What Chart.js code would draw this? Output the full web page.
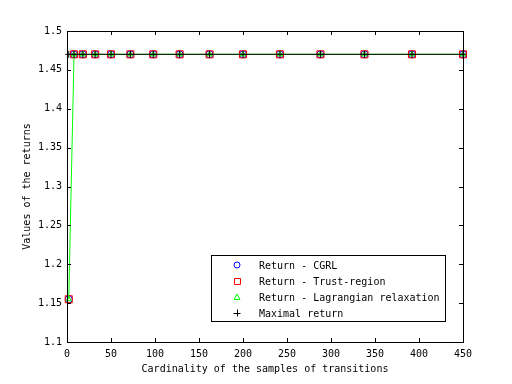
<!DOCTYPE html>
<html>
<head>
<meta charset="utf-8">
<script src="https://cdn.jsdelivr.net/npm/chart.js@4/dist/chart.umd.min.js"></script>
<style>
  html, body { margin: 0; padding: 0; background: #fff; }
  #wrap { width: 512px; height: 384px; position: relative; }
</style>
</head>
<body>
<div id="wrap"><canvas id="c" width="512" height="384"></canvas></div>
<script>
// sample sizes and returns
const sampleSizes = [2, 8, 18, 32, 50, 72, 98, 128, 162, 200, 242, 288, 338, 392, 450];
const returnCGRL  = [1.155, 1.47, 1.47, 1.47, 1.47, 1.47, 1.47, 1.47, 1.47, 1.47, 1.47, 1.47, 1.47, 1.47, 1.47];
const returnTrust = [1.155, 1.47, 1.47, 1.47, 1.47, 1.47, 1.47, 1.47, 1.47, 1.47, 1.47, 1.47, 1.47, 1.47, 1.47];
const returnLagr  = [1.155, 1.47, 1.47, 1.47, 1.47, 1.47, 1.47, 1.47, 1.47, 1.47, 1.47, 1.47, 1.47, 1.47, 1.47];
const maxReturn   = [1.47, 1.47, 1.47, 1.47, 1.47, 1.47, 1.47, 1.47, 1.47, 1.47, 1.47, 1.47, 1.47, 1.47, 1.47];

const xTicks = [0, 50, 100, 150, 200, 250, 300, 350, 400, 450];
const yTicks = [1.1, 1.15, 1.2, 1.25, 1.3, 1.35, 1.4, 1.45, 1.5];

const seriesNames = ['Return - CGRL', 'Return - Trust-region', 'Return - Lagrangian relaxation', 'Maximal return'];

Chart.defaults.font.family = "'DejaVu Sans Mono', monospace";
Chart.defaults.font.size = 10;
Chart.defaults.color = '#000';

const pts = ys => sampleSizes.map((x, i) => ({ x, y: ys[i] }));

// order: lower number is painted later, so the last matlab series ends up on top.
// blue/red lines sit exactly under the green one in the original, so only
// their markers are drawn (avoids antialiased colour mixing on the rise).
function series(label, ys, color, style, radius, order, line) {
  return {
    label,
    data: pts(ys),
    showLine: line,
    borderColor: color,
    borderWidth: 1,
    pointStyle: style,
    pointRadius: radius,
    pointBorderColor: color,
    pointBackgroundColor: 'rgba(0,0,0,0)',
    pointBorderWidth: 1,
    clip: false,
    order,
  };
}

// box + inward ticks on all four sides (matlab look)
const axesBox = {
  id: 'axesBox',
  afterDraw(chart) {
    const { ctx, chartArea: a, scales } = chart;
    const tl = 4;
    ctx.save();
    ctx.strokeStyle = '#000';
    ctx.lineWidth = 1;
    ctx.strokeRect(Math.round(a.left) + 0.5, Math.round(a.top) + 0.5,
                   Math.round(a.right - a.left), Math.round(a.bottom - a.top));
    ctx.beginPath();
    xTicks.forEach(v => {
      const px = Math.round(scales.x.getPixelForValue(v)) + 0.5;
      ctx.moveTo(px, a.bottom); ctx.lineTo(px, a.bottom - tl);
      ctx.moveTo(px, a.top); ctx.lineTo(px, a.top + tl);
    });
    yTicks.forEach(v => {
      const py = Math.round(scales.y.getPixelForValue(v)) + 0.5;
      ctx.moveTo(a.left, py); ctx.lineTo(a.left + tl, py);
      ctx.moveTo(a.right, py); ctx.lineTo(a.right - tl, py);
    });
    ctx.stroke();
    ctx.restore();
  }
};

// legend box in the lower right, like the original
const boxLegend = {
  id: 'boxLegend',
  afterDraw(chart) {
    const { ctx } = chart;
    const L = 211, T = 255, W = 234, H = 66;
    ctx.save();
    ctx.fillStyle = '#fff';
    ctx.fillRect(L, T, W, H);
    ctx.strokeStyle = '#000';
    ctx.lineWidth = 1;
    ctx.strokeRect(L + 0.5, T + 0.5, W, H);
    ctx.font = "10px 'DejaVu Sans Mono', monospace";
    ctx.textBaseline = 'middle';
    ctx.textAlign = 'left';
    chart.data.datasets.forEach((ds, i) => {
      const y = 265 + i * 16;
      const mx = 237;
      ctx.strokeStyle = ds.borderColor;
      ctx.beginPath();
      if (ds.pointStyle === 'circle') {
        ctx.arc(mx, y, 3, 0, Math.PI * 2);
      } else if (ds.pointStyle === 'rect') {
        ctx.rect(mx - 3 + 0.5, y - 3 + 0.5, 6, 6);
      } else if (ds.pointStyle === 'triangle') {
        ctx.moveTo(mx, y - 3); ctx.lineTo(mx + 3, y + 2.5); ctx.lineTo(mx - 3, y + 2.5); ctx.closePath();
      } else {
        ctx.moveTo(mx - 3.5, y + 0.5); ctx.lineTo(mx + 3.5, y + 0.5);
        ctx.moveTo(mx + 0.5, y - 3.5); ctx.lineTo(mx + 0.5, y + 3.5);
      }
      ctx.stroke();
      ctx.fillStyle = '#000';
      ctx.fillText(ds.label, 259, y + 1);
    });
    ctx.restore();
  }
};

new Chart(document.getElementById('c'), {
  type: 'scatter',
  data: {
    datasets: [
      series(seriesNames[0], returnCGRL, '#0000ff', 'circle', 3.5, 3, false),
      series(seriesNames[1], returnTrust, '#ff0000', 'rect', 5, 2, false),
      series(seriesNames[2], returnLagr, '#00ff00', 'triangle', 3, 1, true),
      series(seriesNames[3], maxReturn, '#000000', 'cross', 3.5, 0, true),
    ],
  },
  options: {
    responsive: false,
    animation: false,
    layout: { padding: { left: 0, right: 49, top: 31, bottom: 0 } },
    plugins: {
      legend: { display: false },
      tooltip: { enabled: false },
    },
    scales: {
      x: {
        type: 'linear',
        min: 0,
        max: 450,
        afterBuildTicks: s => { s.ticks = xTicks.map(v => ({ value: v })); },
        afterFit: s => { s.height = 42; },
        grid: { display: false, drawTicks: false },
        border: { display: false },
        ticks: { padding: 6, maxRotation: 0, callback: v => String(v) },
        title: { display: true, text: 'Cardinality of the samples of transitions', padding: { top: 0, bottom: 9 } },
      },
      y: {
        type: 'linear',
        min: 1.1,
        max: 1.5,
        afterBuildTicks: s => { s.ticks = yTicks.map(v => ({ value: v })); },
        afterFit: s => { s.width = 67; },
        grid: { display: false, drawTicks: false },
        border: { display: false },
        ticks: { padding: 5, callback: v => String(+v.toFixed(2)) },
        title: { display: true, text: 'Values of the returns', padding: { top: 21, bottom: 0 } },
      },
    },
  },
  plugins: [axesBox, boxLegend],
});
</script>
</body>
</html>
